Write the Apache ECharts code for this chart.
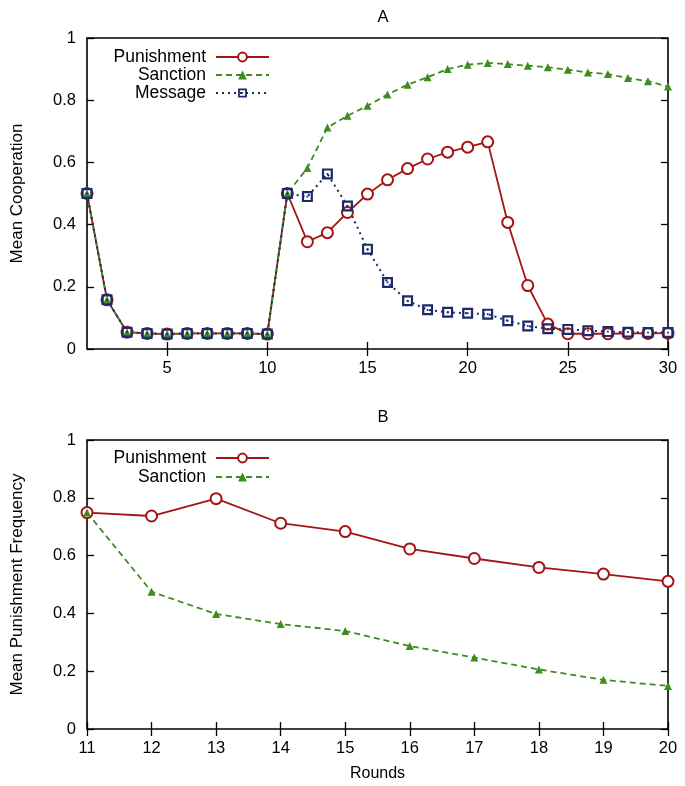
<!DOCTYPE html>
<html>
<head>
<meta charset="utf-8">
<script src="https://cdn.jsdelivr.net/npm/echarts@6/dist/echarts.min.js"></script>
<style>html,body{margin:0;padding:0;background:#fff}#c{width:685px;height:786px}</style>
</head>
<body>
<div id="c"></div>
<script>
const roundsA = [1,2,3,4,5,6,7,8,9,10,11,12,13,14,15,16,17,18,19,20,21,22,23,24,25,26,27,28,29,30];
const punishA = [0.5,0.158,0.054,0.05,0.048,0.05,0.05,0.05,0.05,0.048,0.5,0.345,0.374,0.439,0.498,0.544,0.580,0.611,0.633,0.649,0.666,0.407,0.204,0.080,0.049,0.049,0.049,0.050,0.050,0.051];
const sanctionA = [0.5,0.158,0.054,0.05,0.048,0.05,0.05,0.05,0.05,0.048,0.5,0.582,0.712,0.750,0.782,0.818,0.850,0.874,0.900,0.914,0.920,0.916,0.911,0.906,0.898,0.889,0.884,0.871,0.861,0.844];
const messageA = [0.5,0.158,0.054,0.05,0.048,0.05,0.05,0.05,0.05,0.048,0.5,0.490,0.563,0.460,0.321,0.214,0.155,0.126,0.118,0.115,0.112,0.091,0.074,0.065,0.063,0.059,0.056,0.054,0.053,0.053];
const roundsB = [11,12,13,14,15,16,17,18,19,20];
const punishB = [0.749,0.737,0.797,0.712,0.683,0.623,0.590,0.559,0.536,0.511];
const sanctionB = [0.749,0.475,0.398,0.363,0.339,0.287,0.247,0.206,0.170,0.149];
const ticksA = [5,10,15,20,25,30];
const ticksB = [11,12,13,14,15,16,17,18,19,20];

const RED = '#a51414', GREEN = '#3f8c1e', BLUE = '#1b2a6b';
const FONT = 'Liberation Sans';
const pairs = (xs, ys) => xs.map((x, i) => [x, ys[i]]);
const SQUARE_DOT = 'path://M0,0H10V10H0Z M2,2V8H8V2Z M4.2,4.2H5.8V5.8H4.2Z';

const chart = echarts.init(document.getElementById('c'), null, {renderer: 'canvas'});

function xAxes(gi, min, max, ticks, name) {
  return [
    {type: 'value', gridIndex: gi, min, max, position: 'bottom',
     name: name || '', nameLocation: 'middle', nameGap: 37,
     nameTextStyle: {fontFamily: FONT, fontSize: 16, color: '#000'},
     axisLine: {show: false}, splitLine: {show: false},
     axisTick: {show: true, inside: true, length: 7, customValues: ticks, lineStyle: {color: '#000', width: 1.3}},
     axisLabel: {customValues: ticks, margin: 11, fontFamily: FONT, fontSize: 16.5, color: '#000'}},
    {type: 'value', gridIndex: gi, min, max, position: 'top',
     axisLine: {show: false}, splitLine: {show: false},
     axisTick: {show: true, inside: true, length: 7, customValues: ticks, lineStyle: {color: '#000', width: 1.3}},
     axisLabel: {show: false}}
  ];
}
function yAxes(gi, name) {
  return [
    {type: 'value', gridIndex: gi, min: 0, max: 1, interval: 0.2, position: 'left',
     name, nameLocation: 'middle', nameGap: 61,
     nameTextStyle: {fontFamily: FONT, fontSize: 17, color: '#000'},
     axisLine: {show: false}, splitLine: {show: false},
     axisTick: {show: true, inside: true, length: 7, lineStyle: {color: '#000', width: 1.3}},
     axisLabel: {margin: 11, fontFamily: FONT, fontSize: 16.5, color: '#000'}},
    {type: 'value', gridIndex: gi, min: 0, max: 1, interval: 0.2, position: 'right',
     axisLine: {show: false}, splitLine: {show: false},
     axisTick: {show: true, inside: true, length: 7, lineStyle: {color: '#000', width: 1.3}},
     axisLabel: {show: false}}
  ];
}

const punStyle = {color: RED, symbol: 'emptyCircle', symbolSize: 11,
  lineStyle: {color: RED, width: 1.8, type: 'solid'}, itemStyle: {color: RED, borderColor: RED, borderWidth: 1.8}};
const sanStyle = {color: GREEN, symbol: 'triangle', symbolSize: 8,
  lineStyle: {color: GREEN, width: 1.8, type: [6, 4]}, itemStyle: {color: GREEN, borderColor: GREEN, borderWidth: 0}};
const msgStyle = {color: BLUE, symbol: SQUARE_DOT, symbolSize: 11,
  lineStyle: {color: BLUE, width: 2, type: [2, 4]}, itemStyle: {color: BLUE, borderWidth: 0}};

function legend(name, top) {
  return {data: [name], right: 415, top, orient: 'vertical', padding: 0,
    align: 'right', itemWidth: 53, itemHeight: 11, selectedMode: false,
    textStyle: {fontFamily: FONT, fontSize: 17.5, color: '#000', padding: [0, 5, 0, 0]}};
}

const option = {
  animation: false,
  backgroundColor: '#fff',
  title: [
    {text: 'A', left: 378, top: 4, textAlign: 'center', textStyle: {fontFamily: FONT, fontSize: 16.5, fontWeight: 'normal', color: '#000'}},
    {text: 'B', left: 378, top: 404, textAlign: 'center', textStyle: {fontFamily: FONT, fontSize: 16.5, fontWeight: 'normal', color: '#000'}}
  ],
  legend: [
    legend('Punishment', 48), legend('Sanction', 66), legend('Message', 84),
    legend('Punishment', 449), legend('Sanction', 468)
  ],
  grid: [
    {left: 87, top: 38, width: 581, height: 311, show: true, borderColor: '#000', borderWidth: 1.6, backgroundColor: 'transparent'},
    {left: 87, top: 440, width: 581, height: 289, show: true, borderColor: '#000', borderWidth: 1.6, backgroundColor: 'transparent'}
  ],
  xAxis: [...xAxes(0, 1, 30, ticksA), ...xAxes(1, 11, 20, ticksB, 'Rounds')],
  yAxis: [...yAxes(0, 'Mean Cooperation'), ...yAxes(1, 'Mean Punishment Frequency')],
  series: [
    Object.assign({type: 'line', name: 'Punishment', xAxisIndex: 0, yAxisIndex: 0, data: pairs(roundsA, punishA)}, punStyle),
    Object.assign({type: 'line', name: 'Sanction', xAxisIndex: 0, yAxisIndex: 0, data: pairs(roundsA, sanctionA)}, sanStyle),
    Object.assign({type: 'line', name: 'Message', xAxisIndex: 0, yAxisIndex: 0, data: pairs(roundsA, messageA)}, msgStyle),
    Object.assign({type: 'line', name: 'Punishment', xAxisIndex: 2, yAxisIndex: 2, data: pairs(roundsB, punishB)}, punStyle),
    Object.assign({type: 'line', name: 'Sanction', xAxisIndex: 2, yAxisIndex: 2, data: pairs(roundsB, sanctionB)}, sanStyle)
  ]
};
chart.setOption(option);
</script>
</body>
</html>
